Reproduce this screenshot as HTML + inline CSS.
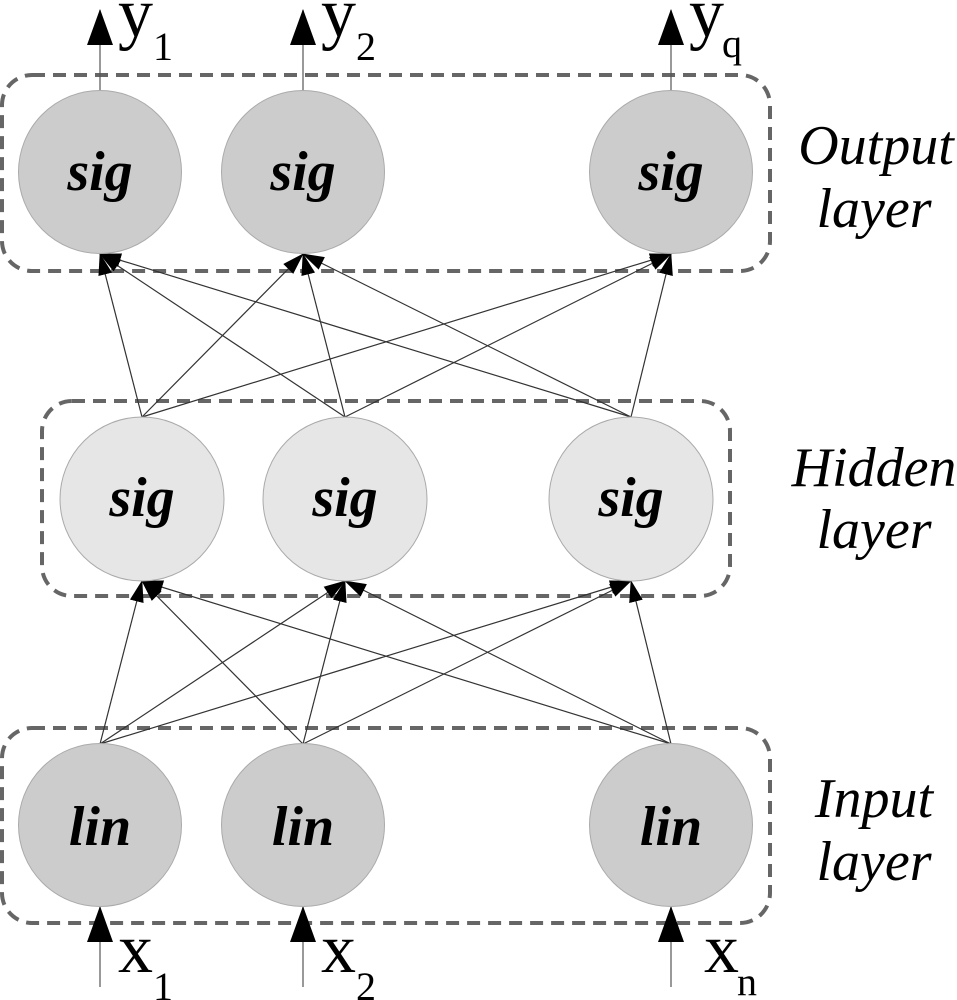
<!DOCTYPE html>
<html><head><meta charset="utf-8"><style>
html,body{margin:0;padding:0;background:#fff;}
svg{display:block;}
</style></head><body>
<svg width="957" height="1000" viewBox="0 0 957 1000" xmlns="http://www.w3.org/2000/svg">
<defs>
<marker id="a" markerWidth="22" markerHeight="14" refX="21" refY="7" orient="auto" markerUnits="userSpaceOnUse">
<path d="M0,0 L22,7 L0,14 Z" fill="#000"/>
</marker>
<marker id="b" markerWidth="36" markerHeight="26" refX="35" refY="13" orient="auto" markerUnits="userSpaceOnUse">
<path d="M0,0 L36,13 L0,26 Z" fill="#000"/>
</marker>
</defs>
<g fill="none" stroke="#666" stroke-width="4" stroke-dasharray="13,8">
<rect x="2" y="75" width="768" height="196" rx="30"/>
<rect x="42" y="401" width="688" height="195" rx="30"/>
<rect x="2" y="728" width="768" height="195" rx="30"/>
</g>
<g stroke="#333" stroke-width="1.2" marker-end="url(#a)">
<line x1="142" y1="417" x2="100" y2="254"/>
<line x1="142" y1="417" x2="303" y2="254"/>
<line x1="142" y1="417" x2="671" y2="254"/>
<line x1="345" y1="417" x2="100" y2="254"/>
<line x1="345" y1="417" x2="303" y2="254"/>
<line x1="345" y1="417" x2="671" y2="254"/>
<line x1="631" y1="417" x2="100" y2="254"/>
<line x1="631" y1="417" x2="303" y2="254"/>
<line x1="631" y1="417" x2="671" y2="254"/>
<line x1="100" y1="744" x2="142" y2="581"/>
<line x1="100" y1="744" x2="345" y2="581"/>
<line x1="100" y1="744" x2="631" y2="581"/>
<line x1="303" y1="744" x2="142" y2="581"/>
<line x1="303" y1="744" x2="345" y2="581"/>
<line x1="303" y1="744" x2="631" y2="581"/>
<line x1="671" y1="744" x2="142" y2="581"/>
<line x1="671" y1="744" x2="345" y2="581"/>
<line x1="671" y1="744" x2="631" y2="581"/>
</g>
<g stroke="#555" stroke-width="1.2" marker-end="url(#b)">
<line x1="100" y1="91" x2="100" y2="10"/>
<line x1="303" y1="91" x2="303" y2="10"/>
<line x1="671" y1="91" x2="671" y2="10"/>
<line x1="100" y1="987" x2="100" y2="907"/>
<line x1="303" y1="987" x2="303" y2="907"/>
<line x1="671" y1="987" x2="671" y2="907"/>
</g>
<g stroke="#aaa" stroke-width="1">
<circle cx="100" cy="172" r="81.5" fill="#cccccc"/>
<circle cx="303" cy="172" r="81.5" fill="#cccccc"/>
<circle cx="671" cy="172" r="81.5" fill="#cccccc"/>
<circle cx="142" cy="499" r="82" fill="#e6e6e6"/>
<circle cx="345" cy="499" r="82" fill="#e6e6e6"/>
<circle cx="631" cy="499" r="82" fill="#e6e6e6"/>
<circle cx="100" cy="825" r="81.5" fill="#cccccc"/>
<circle cx="303" cy="825" r="81.5" fill="#cccccc"/>
<circle cx="671" cy="825" r="81.5" fill="#cccccc"/>
</g>
<g font-family="Liberation Serif, serif" font-style="italic" font-weight="bold" font-size="56" text-anchor="middle" fill="#000">
<text x="100" y="190">sig</text>
<text x="303" y="190">sig</text>
<text x="671" y="190">sig</text>
<text x="142" y="516">sig</text>
<text x="345" y="516">sig</text>
<text x="631" y="516">sig</text>
<text x="100" y="845">lin</text>
<text x="303" y="845">lin</text>
<text x="671" y="845">lin</text>
</g>
<g font-family="Liberation Serif, serif" font-style="italic" font-size="56" text-anchor="middle" fill="#000">
<text x="876" y="164">Output</text>
<text x="874" y="227">layer</text>
<text x="874" y="486">Hidden</text>
<text x="874" y="548">layer</text>
<text x="874" y="817">Input</text>
<text x="874" y="880">layer</text>
</g>
<g font-family="Liberation Serif, serif" fill="#000">
<text x="118" y="36" font-size="70">y</text><text x="153" y="60" font-size="40">1</text>
<text x="321" y="36" font-size="70">y</text><text x="356" y="60" font-size="40">2</text>
<text x="689" y="36" font-size="70">y</text><text x="722" y="57" font-size="40">q</text>
<text x="118" y="972" font-size="70">x</text><text x="153" y="1000" font-size="40">1</text>
<text x="321" y="972" font-size="70">x</text><text x="356" y="1000" font-size="40">2</text>
<text x="704" y="972" font-size="70">x</text><text x="737" y="995" font-size="40">n</text>
</g>
</svg>
</body></html>
